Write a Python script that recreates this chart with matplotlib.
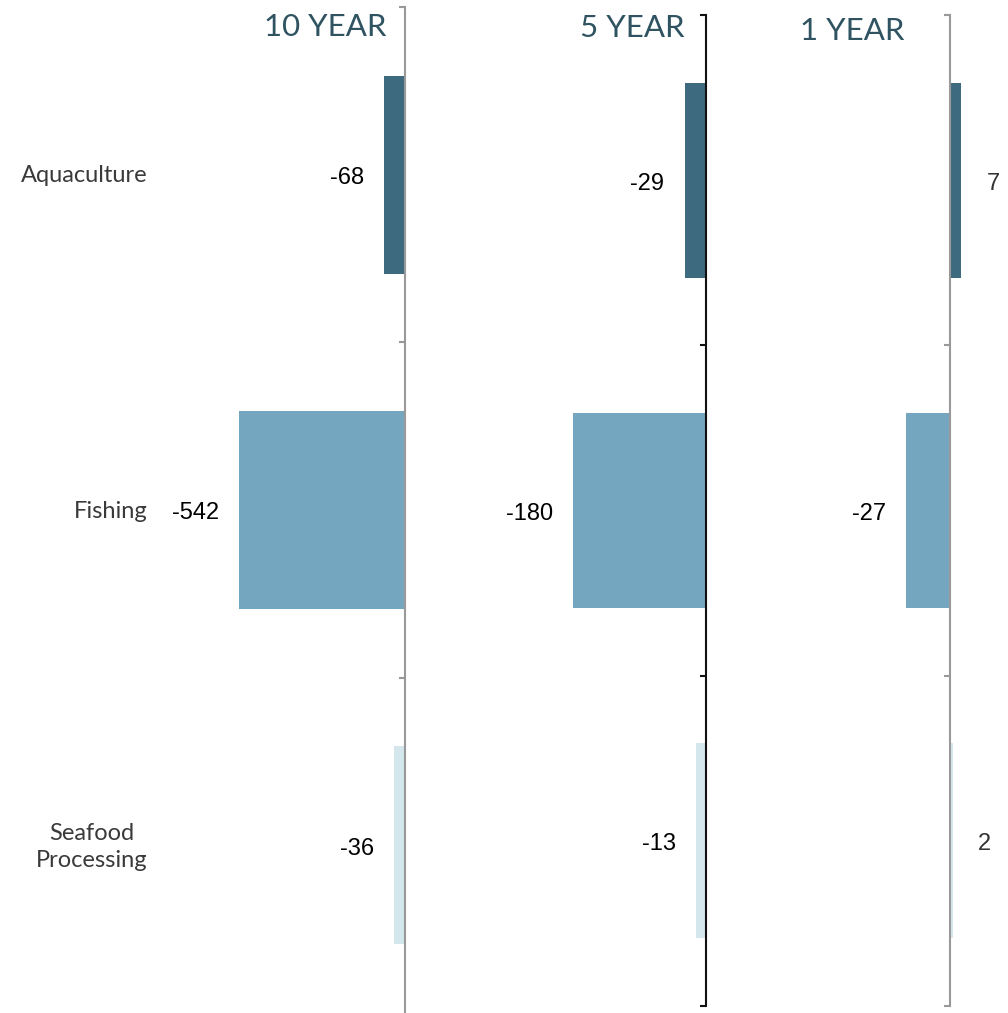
import matplotlib
matplotlib.use('Agg')
import matplotlib.pyplot as plt

# Data
categories = ['Aquaculture', 'Fishing', 'Seafood\nProcessing']
periods = ['10 YEAR', '5 YEAR', '1 YEAR']
values_10yr = [-68, -542, -36]
values_5yr = [-29, -180, -13]
values_1yr = [7, -27, 2]
all_values = [values_10yr, values_5yr, values_1yr]

bar_colors = ['#3e6a7f', '#75a6bf', '#d4e7ed']
title_color = '#2f5361'

W, H = 1008, 1013
fig = plt.figure(figsize=(W / 100, H / 100), dpi=100)

# panel layout in pixels: (zero x, px per unit, xmin, xmax, top y, bottom y, spine colour)
panels = [
    (405, 0.306, -800, 0, 7, 1013, '#999999'),
    (706, 0.739, -320, 0, 15, 1006, '#111111'),
    (950, 1.62, -60, 30, 15, 1006, '#999999'),
]
title_pos = [(386, 27), (685, 28), (905, 31)]
tick_sets = [[-0.5, 0.5, 1.5], [-0.5, 0.5, 1.5, 2.5], [-0.5, 0.5, 1.5, 2.5]]

for i, (x0, scale, xmin, xmax, top, bottom, spine_col) in enumerate(panels):
    left_px = x0 + xmin * scale
    width_px = (xmax - xmin) * scale
    ax = fig.add_axes([left_px / W, (H - bottom) / H, width_px / W, (bottom - top) / H])
    vals = all_values[i]
    ypos = list(range(len(categories)))
    ax.barh(ypos, vals, height=0.59, color=bar_colors, zorder=1)
    ax.set_xlim(xmin, xmax)
    ax.set_ylim(2.5, -0.5)

    for s in ['top', 'right', 'bottom']:
        ax.spines[s].set_visible(False)
    ax.spines['left'].set_position(('data', 0))
    ax.spines['left'].set_color(spine_col)
    ax.spines['left'].set_linewidth(1.5)
    ax.spines['left'].set_zorder(3)
    ax.set_xticks([])
    ax.set_yticks(tick_sets[i])
    ax.set_yticklabels([])
    ax.tick_params(axis='y', direction='out', length=4.5, width=1.5, color=spine_col)
    ax.patch.set_visible(False)

    for y, v in zip(ypos, vals):
        if v < 0:
            ax.annotate(str(v), xy=(v, y), xytext=(-14.5, -2.5), textcoords='offset points',
                        ha='right', va='center', fontsize=17, family='Liberation Sans',
                        color='black', annotation_clip=False)
        else:
            ax.annotate(str(v), xy=(v, y), xytext=(18, -2.5), textcoords='offset points',
                        ha='left', va='center', fontsize=17, family='Liberation Sans',
                        color='#333333', annotation_clip=False)

    tx, ty = title_pos[i]
    fig.text(tx / W, 1 - ty / H, periods[i], ha='right', va='center', fontsize=22.5,
             family='Lato', color=title_color)

# category labels
cat_y = [176, 512, 847]
for c, y in zip(categories, cat_y):
    fig.text(148 / W, 1 - y / H, c, ha='right', va='center', fontsize=17,
             family='Lato', color='#3a3a3a', multialignment='center',
             linespacing=1.4)

fig.savefig('out.png', dpi=100)
